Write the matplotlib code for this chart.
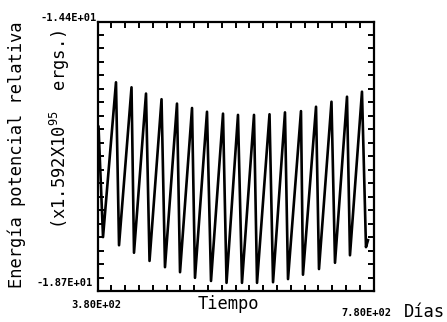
import matplotlib
matplotlib.use("Agg")
import matplotlib.pyplot as plt
import numpy as np

# Data (days, relative potential energy)
days = [381.5, 388.0, 406.8, 411.2, 429.3, 432.9, 450.3, 455.4, 472.8, 477.8,
        495.2, 499.6, 517.0, 521.3, 538.7, 544.5, 561.9, 567.0, 583.6, 589.4,
        606.8, 611.2, 629.3, 634.4, 651.7, 656.1, 674.9, 677.8, 696.7, 701.0,
        719.1, 724.2, 741.6, 745.9, 763.3, 769.1, 772.0]
energy = [-16.08, -17.84, -15.37, -17.97, -15.45, -18.09, -15.55, -18.22, -15.64, -18.32,
          -15.71, -18.40, -15.78, -18.49, -15.84, -18.54, -15.87, -18.57, -15.89, -18.57,
          -15.89, -18.57, -15.88, -18.56, -15.85, -18.51, -15.83, -18.44, -15.76, -18.35,
          -15.68, -18.25, -15.60, -18.13, -15.52, -18.00, -17.89]

x_min, x_max = 380.0, 780.0
y_min, y_max = -18.7, -14.4
x_labels = ["3.80E+02", "7.80E+02"]
y_labels = ["-1.44E+01", "-1.87E+01"]

W, H = 447, 322
plt.rcParams['mathtext.fontset'] = 'custom'
plt.rcParams['mathtext.rm'] = 'DejaVu Sans Mono'
plt.rcParams['mathtext.default'] = 'regular'
mono = 'DejaVu Sans Mono'

fig = plt.figure(figsize=(W / 100, H / 100), dpi=100)
fig.patch.set_facecolor('white')
ax = fig.add_axes([97.5 / W, 1 - 291 / H, (373.5 - 97.5) / W, (291 - 21.5) / H])
ax.plot(days, energy, color='black', lw=1.9, solid_joinstyle='round')
ax.set_xlim(x_min, x_max)
ax.set_ylim(y_min, y_max)
for s in ax.spines.values():
    s.set_linewidth(1.6)

xt = np.linspace(x_min, x_max, 21)
yt = np.linspace(y_min, y_max, 21)
ax.set_xticks(xt)
ax.set_yticks(yt)
ax.tick_params(which='major', direction='in', length=4, width=1.4,
               top=True, right=True, labelbottom=False, labelleft=False)
ax.set_xticks([(x_min + x_max) / 2], minor=True)
ax.set_yticks([(y_min + y_max) / 2], minor=True)
ax.tick_params(which='minor', direction='inout', length=8, width=1.4,
               top=True, right=True, labelbottom=False, labelleft=False)

def ftext(x, y, s, **kw):
    fig.text(x / W, 1 - y / H, s, **kw)

small = dict(family=mono, fontsize=7.5, fontweight='bold', va='center')
ftext(97, 18, y_labels[0], ha='right', **small)
ftext(93, 283, y_labels[1], ha='right', **small)
ftext(96, 305, x_labels[0], ha='center', **small)
ftext(366, 313, x_labels[1], ha='center', **small)

big = dict(family=mono, fontsize=12.3, va='center', ha='center')
ftext(228, 304, "Tiempo", **big)
ftext(424, 312, "Días", **big)
ftext(17, 155, "Energía potencial relativa", rotation=90, **big)
ftext(60, 129, "(x1.592X10$^{95}$  ergs.)", rotation=90, **big)

fig.savefig("out.png", dpi=100, facecolor='white')
